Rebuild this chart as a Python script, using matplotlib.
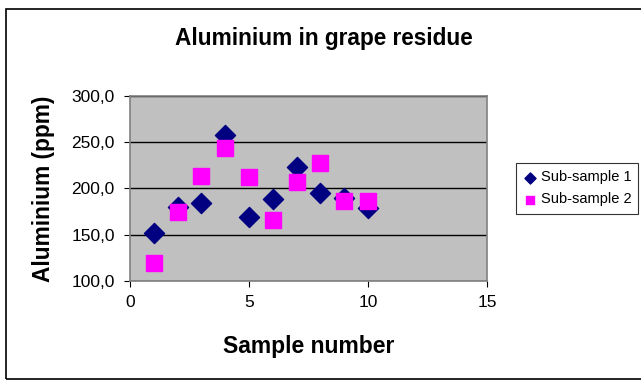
import matplotlib
matplotlib.use("Agg")
import matplotlib.pyplot as plt
from matplotlib.patches import Rectangle
from matplotlib.ticker import FuncFormatter

plt.rcParams['font.family'] = ['Liberation Sans', 'DejaVu Sans']

# data
sample_no = [1, 2, 3, 4, 5, 6, 7, 8, 9, 10]
sub_sample_1 = [151.5, 180, 184, 258, 169, 188.5, 223.5, 195, 190, 178.5]
sub_sample_2 = [120, 175, 213, 243.5, 212, 166, 207, 227, 187, 187]

fig = plt.figure(figsize=(6.41, 3.80), dpi=100)
ax = fig.add_axes([0.2028, 0.2605, 0.557, 0.487])

# outer chart frame
fig.patches.append(Rectangle((6 / 641, 1 / 380), 640 / 641, 370 / 380, transform=fig.transFigure,
                             fill=False, edgecolor='black', linewidth=1.2))

ax.set_facecolor('#C0C0C0')
ax.scatter(sample_no, sub_sample_1, marker='D', s=105, color='#000080', label='Sub-sample 1', zorder=3)
ax.scatter(sample_no, sub_sample_2, marker='s', s=130, color='#FF00FF', label='Sub-sample 2', zorder=4)

ax.set_xlim(0, 15)
ax.set_ylim(100, 300)
ax.set_xticks([0, 5, 10, 15])
ax.set_yticks([100, 150, 200, 250, 300])
ax.yaxis.set_major_formatter(FuncFormatter(lambda v, p: f"{v:.1f}".replace('.', ',')))
ax.yaxis.grid(True, color='black', linewidth=1)
ax.set_axisbelow(True)
ax.tick_params(direction='out', length=4, labelsize=12.5, colors='black')
ax.tick_params(axis='x', pad=6)
ax.tick_params(axis='y', pad=7)
for s in ax.spines.values():
    s.set_color('#808080')
    s.set_linewidth(1.2)

# title is centred on the chart area, not the plot area
fig.text(324 / 641, 1 - 38 / 380, 'Aluminium in grape residue', fontsize=16.3, fontweight='bold',
         ha='center', va='center')
ax.set_xlabel('Sample number', fontsize=16.5, fontweight='bold', labelpad=18)
ax.set_ylabel('Aluminium (ppm)', fontsize=16.3, fontweight='bold', labelpad=12)

leg = ax.legend(loc='center left', bbox_to_anchor=(1.06, 0.5), fontsize=10.5, frameon=True,
                fancybox=False, edgecolor='black', handletextpad=0.2, markerscale=0.55,
                borderpad=0.5, labelspacing=0.55, handlelength=1.0)
leg.get_frame().set_linewidth(0.8)

fig.savefig('out.png', dpi=100)
